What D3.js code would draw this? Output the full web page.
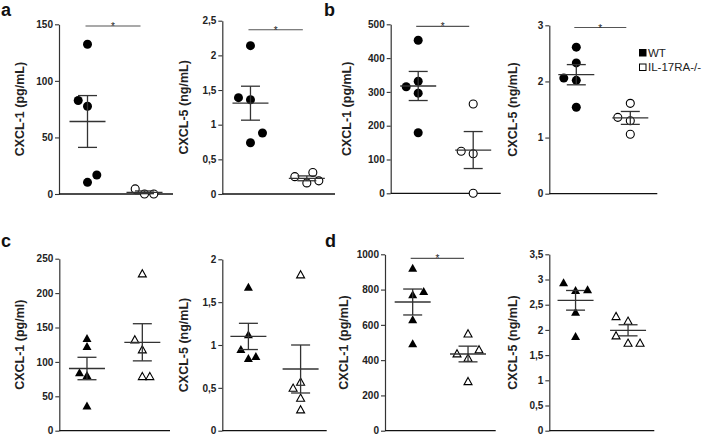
<!DOCTYPE html>
<html><head><meta charset="utf-8">
<script src="https://cdn.jsdelivr.net/npm/d3@7"></script>
<style>body{margin:0;background:#fff} svg{display:block;font-family:"Liberation Sans",Arial,sans-serif}</style>
</head><body><svg id="chart" width="707" height="436"></svg>
<script>
// ---------------- DATA ----------------
const groups = ["WT", "IL-17RA-/-"];
const legendLabels = ["WT", "IL-17RA-/-"];
const panelLetters = ["a", "b", "c", "d"];

// a – CXCL-1 (pg/mL)
const a1Ticks = [0, 50, 100, 150];
const a1WT = [132.4, 82.6, 77.6, 16.8, 10.3];
const a1KO = [4.5, 0, 0];
const a1WTslot = [0, -1, 0, 1, 0];
const a1KOslot = [-1, 0, 1];
const a1Mean = [64.1, 1.5];
const a1Sem = [22.9, 1.2];
const a1Sig = 148.5;

// a – CXCL-5 (ng/mL)
const a2Ticks = [0, 0.5, 1, 1.5, 2, 2.5];
const a2WT = [2.14, 1.39, 1.36, 0.88, 0.74];
const a2KO = [0.25, 0.31, 0.19, 0.16];
const a2WTslot = [0, -1, 0, 1, 0];
const a2KOslot = [-1, 0.5, 1, 0];
const a2Mean = [1.31, 0.226];
const a2Sem = [0.245, 0.035];
const a2Sig = 2.37;

// b – CXCL-1 (pg/mL)
const b1Ticks = [0, 100, 200, 300, 400, 500];
const b1WT = [452.7, 315.4, 331.4, 296.3, 179.3];
const b1KO = [264.2, 124.3, 117.2, 0];
const b1WTslot = [0, -1, 0, 0, 0];
const b1KOslot = [0, -1, 0, 0];
const b1Mean = [317.5, 128];
const b1Sem = [43, 54.7];
const b1Sig = 494;

// b – CXCL-5 (ng/mL)
const b2Ticks = [0, 1, 2, 3];
const b2WT = [2.61, 2.33, 2.06, 2.02, 1.54];
const b2KO = [1.61, 1.36, 1.30, 1.06];
const b2WTslot = [0, 0, -1, 0, 0];
const b2KOslot = [0, -1, 0, 0];
const b2Mean = [2.12, 1.35];
const b2Sem = [0.18, 0.115];
const b2Sig = 2.96;

// c – CXCL-1 (pg/ml)
const c1Ticks = [0, 50, 100, 150, 200, 250];
const c1WT = [134.6, 123, 85, 81, 36.5];
const c1KO = [228.8, 132.8, 118.3, 79.5, 79.5];
const c1WTslot = [0, 0, -1, 0, 0];
const c1KOslot = [0, -1, 0, 0, 1];
const c1Mean = [90.4, 128.5];
const c1Sem = [16.3, 27];
const c1Sig = null;

// c – CXCL-5 (ng/mL)
const c2Ticks = [0, 0.5, 1, 1.5, 2];
const c2WT = [1.68, 1.125, 0.953, 0.848, 0.872];
const c2KO = [1.825, 0.572, 0.502, 0.385, 0.25];
const c2WTslot = [0, 0, -1, 0, 1];
const c2KOslot = [0, 0, -1, 0, 0];
const c2Mean = [1.10, 0.72];
const c2Sem = [0.153, 0.28];
const c2Sig = null;

// d – CXCL-1 (pg/mL)
const d1Ticks = [0, 200, 400, 600, 800, 1000];
const d1WT = [924, 773, 792, 631.5, 495.5];
const d1KO = [552, 438.8, 461.5, 413.8, 281.7];
const d1WTslot = [0, 0, 1, 0, 0];
const d1KOslot = [0, -1, 1, 0, 0];
const d1Mean = [729.6, 434.8];
const d1Sem = [73.5, 44.5];
const d1Sig = 977;

// d – CXCL-5 (ng/mL)
const d2Ticks = [0, 0.5, 1, 1.5, 2, 2.5, 3, 3.5];
const d2WT = [2.944, 2.79, 2.805, 2.36, 1.879];
const d2KO = [2.276, 2.183, 1.893, 1.746, 1.746];
const d2WTslot = [-1, 0, 1, 0, 0];
const d2KOslot = [-1, 0, -1, 0, 1];
const d2Mean = [2.587, 1.992];
const d2Sem = [0.195, 0.11];
const d2Sig = null;

// ---------------- LAYOUT ----------------
const panels = [
  {title:"CXCL-1 (pg/mL)", ticks:a1Ticks, wt:a1WT, ko:a1KO, ws:a1WTslot, ks:a1KOslot, mean:a1Mean, sem:a1Sem, sig:a1Sig, shape:"circle",
   x0:59, x1:173, yTop:24.3, yBot:194, titleX:20, gap:9.3},
  {title:"CXCL-5 (ng/mL)", ticks:a2Ticks, wt:a2WT, ko:a2KO, ws:a2WTslot, ks:a2KOslot, mean:a2Mean, sem:a2Sem, sig:a2Sig, shape:"circle",
   x0:222.3, x1:335, yTop:20.7, yBot:194, titleX:184, gap:12},
  {title:"CXCL-1 (pg/mL)", ticks:b1Ticks, wt:b1WT, ko:b1KO, ws:b1WTslot, ks:b1KOslot, mean:b1Mean, sem:b1Sem, sig:b1Sig, shape:"circle",
   x0:390.7, x1:500.7, yTop:24.3, yBot:193.3, titleX:347, gap:12},
  {title:"CXCL-5 (ng/mL)", ticks:b2Ticks, wt:b2WT, ko:b2KO, ws:b2WTslot, ks:b2KOslot, mean:b2Mean, sem:b2Sem, sig:b2Sig, shape:"circle",
   x0:549.3, x1:657.3, yTop:25.3, yBot:193.7, titleX:513, gap:12.5},
  {title:"CXCL-1 (pg/ml)", ticks:c1Ticks, wt:c1WT, ko:c1KO, ws:c1WTslot, ks:c1KOslot, mean:c1Mean, sem:c1Sem, sig:c1Sig, shape:"triangle",
   x0:59.3, x1:170, yTop:258.7, yBot:430.7, titleX:20, gap:7.5},
  {title:"CXCL-5 (ng/mL)", ticks:c2Ticks, wt:c2WT, ko:c2KO, ws:c2WTslot, ks:c2KOslot, mean:c2Mean, sem:c2Sem, sig:c2Sig, shape:"triangle",
   x0:222.3, x1:326.7, yTop:259.3, yBot:430.7, titleX:184, gap:7.5},
  {title:"CXCL-1 (pg/mL)", ticks:d1Ticks, wt:d1WT, ko:d1KO, ws:d1WTslot, ks:d1KOslot, mean:d1Mean, sem:d1Sem, sig:d1Sig, shape:"triangle",
   x0:385, x1:495.7, yTop:254.3, yBot:430.7, titleX:344, gap:11},
  {title:"CXCL-5 (ng/mL)", ticks:d2Ticks, wt:d2WT, ko:d2KO, ws:d2WTslot, ks:d2KOslot, mean:d2Mean, sem:d2Sem, sig:d2Sig, shape:"triangle",
   x0:549.3, x1:654.3, yTop:254.3, yBot:430.7, titleX:513, gap:12}
];
const letterPos = [[1,16],[324,16],[1,247],[325,247]];

const svg = d3.select("#chart");
const locale = d3.formatLocale({decimal:",", thousands:"", grouping:[3], currency:["",""]});
const fmt = locale.format("~g");
const ink = "#222";

function marker(sel, shape, filled){
  if (shape === "circle") {
    sel.append("circle").attr("r", filled ? 4.5 : 4)
      .attr("fill", filled ? "#000" : "#fff").attr("stroke", "#000").attr("stroke-width", filled ? 0 : 1.1);
  } else {
    const w = filled ? 9 : 8, h = filled ? 8 : 7.2;
    sel.append("path").attr("d", `M0,${-h/2}L${w/2},${h/2}L${-w/2},${h/2}Z`)
      .attr("fill", filled ? "#000" : "#fff").attr("stroke", "#000").attr("stroke-width", filled ? 0 : 1.1)
      .attr("stroke-linejoin", "miter");
  }
}

panels.forEach(p => {
  const y = d3.scaleLinear().domain([0, d3.max(p.ticks)]).range([p.yBot, p.yTop]);
  const x = d3.scalePoint().domain(groups).range([p.x0, p.x1]).padding(0.5);
  const g = svg.append("g");

  // y axis
  const ax = g.append("g").attr("transform", `translate(${p.x0},0)`)
    .call(d3.axisLeft(y).tickValues(p.ticks).tickFormat(fmt).tickSize(4).tickSizeOuter(0).tickPadding(2));
  ax.select(".domain").attr("stroke", "#333").attr("stroke-width", 1.2);
  ax.selectAll(".tick line").attr("stroke", "#333").attr("stroke-width", 1.1);
  ax.selectAll(".tick text").attr("fill", ink).attr("font-size", 10).attr("font-weight", "bold")
    .attr("font-family", '"Liberation Sans",Arial,sans-serif');

  // x axis line
  g.append("line").attr("x1", p.x0).attr("x2", p.x1).attr("y1", p.yBot).attr("y2", p.yBot)
    .attr("stroke", "#111").attr("stroke-width", 1.3);

  // title
  g.append("text").attr("transform", `translate(${p.titleX},${(p.yTop + p.yBot) / 2}) rotate(-90)`)
    .attr("text-anchor", "middle").attr("dominant-baseline", "central")
    .attr("font-size", 12.5).attr("font-weight", "bold").attr("fill", ink).text(p.title);

  // points
  const sets = [[p.wt, p.ws, true, groups[0]], [p.ko, p.ks, false, groups[1]]];
  sets.forEach(([vals, slots, filled, grp]) => {
    vals.forEach((v, i) => {
      const m = g.append("g").attr("transform", `translate(${x(grp) + slots[i] * p.gap},${y(v)})`);
      marker(m, p.shape, filled);
    });
  });

  // mean ± SEM
  groups.forEach((grp, k) => {
    const cx = x(grp), mv = p.mean[k], s = p.sem[k];
    const eb = g.append("g").attr("stroke", "#333").attr("stroke-width", 1.3).attr("fill", "none");
    eb.append("line").attr("x1", cx - 18).attr("x2", cx + 18).attr("y1", y(mv)).attr("y2", y(mv));
    eb.append("line").attr("x1", cx).attr("x2", cx).attr("y1", y(mv + s)).attr("y2", y(mv - s));
    eb.append("line").attr("x1", cx - 9.5).attr("x2", cx + 9.5).attr("y1", y(mv + s)).attr("y2", y(mv + s));
    eb.append("line").attr("x1", cx - 9.5).attr("x2", cx + 9.5).attr("y1", y(mv - s)).attr("y2", y(mv - s));
  });

  // significance
  if (p.sig !== null) {
    const sy = y(p.sig), xa = x(groups[0]) - 2, xb = x(groups[1]) - 4;
    g.append("line").attr("x1", xa).attr("x2", xb).attr("y1", sy).attr("y2", sy)
      .attr("stroke", "#555").attr("stroke-width", 1.1);
    g.append("text").attr("x", (xa + xb) / 2).attr("y", sy + 4).attr("text-anchor", "middle")
      .attr("font-size", 10).attr("fill", ink).text("*");
  }
});

// panel letters
panelLetters.forEach((l, i) => {
  svg.append("text").attr("x", letterPos[i][0]).attr("y", letterPos[i][1])
    .attr("font-size", 18).attr("font-weight", "bold").attr("fill", "#111").text(l);
});

// legend
const leg = svg.append("g").attr("transform", "translate(639,49)");
legendLabels.forEach((t, i) => {
  const r = leg.append("g").attr("transform", `translate(0,${i * 14.5})`);
  r.append("rect").attr("x", i ? 0.5 : 0).attr("y", i ? 0.5 : 0).attr("width", i ? 6.5 : 7.5).attr("height", i ? 6.5 : 7.5)
    .attr("fill", i ? "#fff" : "#000").attr("stroke", i ? "#000" : "none").attr("stroke-width", 1);
  r.append("text").attr("x", 9).attr("y", 7.5).attr("font-size", 11.5).attr("fill", ink).text(t);
});
</script></body></html>
